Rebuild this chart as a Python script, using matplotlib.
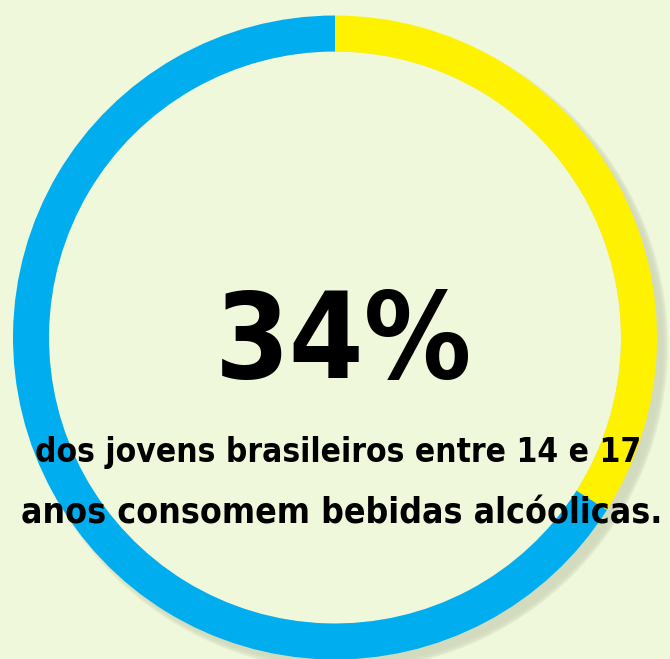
import matplotlib.pyplot as plt
from matplotlib.patches import Wedge, Circle

# data
labels = ["consomem", "não consomem"]
shares = [34, 66]
colors = ["#fff200", "#00aeef"]
headline = "34%"
caption = ["dos jovens brasileiros entre 14 e 17",
           "anos consomem bebidas alcóolicas."]

bg = "#f0f8dc"
W, H = 670, 659
cx, cy = 335, 321.5
r_out, ring = 322, 36

fig = plt.figure(figsize=(6.7, 6.59), dpi=100, facecolor=bg)
ax = fig.add_axes([0, 0, 1, 1])
ax.set_xlim(0, W)
ax.set_ylim(0, H)
ax.set_aspect("equal")
ax.axis("off")

# soft shadow (outer lower-right only)
for k in range(6):
    ax.add_patch(Circle((cx + 8, cy - 8), r_out + 3 - k * 1.2,
                        color="#d2dabd", alpha=0.35, lw=0))
ax.add_patch(Circle((cx, cy), r_out - ring, color=bg, lw=0))

# ring, clockwise from 12 o'clock
start = 90.0
total = sum(shares)
for val, col in zip(shares, colors):
    sweep = 360.0 * val / total
    ax.add_patch(Wedge((cx, cy), r_out, start - sweep, start,
                       width=ring, color=col, lw=0))
    start -= sweep

fam = ["DejaVu Sans"]
ax.text(343, H - 345, headline, ha="center", va="center",
        fontsize=86, fontweight="bold", fontstretch="condensed",
        family=fam, color="black")
ax.text(338.5, H - 462, caption[0], ha="center", va="baseline",
        fontsize=24, fontweight="bold", fontstretch="condensed",
        family=fam, color="black")
ax.text(342, H - 523, caption[1], ha="center", va="baseline",
        fontsize=25.6, fontweight="bold", fontstretch="condensed",
        family=fam, color="black")

fig.savefig("out.png", dpi=100, facecolor=bg)
